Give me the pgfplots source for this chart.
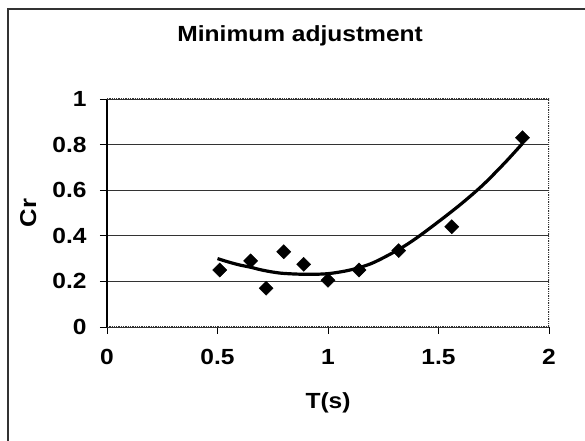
\documentclass[border=0pt]{standalone}
\usepackage{pgfplots}
\pgfplotsset{compat=1.18}
\usepackage{fontspec}
\setmainfont{Liberation Sans}
\newfontfamily\wide{Liberation Sans}[FakeStretch=1.12]

% measured coefficients
\pgfplotstableread{
T     Cr
0.51  0.25
0.65  0.29
0.72  0.17
0.80  0.33
0.89  0.275
1.00  0.205
1.14  0.25
1.32  0.335
1.56  0.44
1.88  0.83
}\measured

% polynomial trend
\pgfplotstableread{
T     Cr
0.50  0.300
0.55  0.285
0.60  0.272
0.65  0.262
0.70  0.250
0.75  0.241
0.80  0.235
0.90  0.231
1.00  0.234
1.10  0.250
1.20  0.280
1.32  0.340
1.40  0.390
1.50  0.462
1.60  0.538
1.70  0.622
1.80  0.720
1.88  0.805
}\trend

\begin{document}
\begin{tikzpicture}
\path[use as bounding box] (0bp,0bp) rectangle (585bp,441bp);
\draw[black!80, line width=1.2bp] (8bp,0bp) -- (8bp,432bp) -- (585bp,432bp);
\begin{axis}[
  at={(107bp,114bp)}, anchor=south west,
  scale only axis, width=442bp, height=228bp,
  xmin=0, xmax=2, ymin=0, ymax=1,
  xtick={0,0.5,1,1.5,2},
  ytick={0,0.2,0.4,0.6,0.8,1},
  axis lines=left,
  axis line style={-},
  y axis line style={black, line width=1.4bp},
  x axis line style={black!80, densely dotted, line width=1.3bp},
  ymajorgrids,
  grid style={black!80, line width=0.9bp},
  tick align=outside,
  major tick length=7bp,
  tick style={black, line width=0.9bp},
  /pgf/number format/assume math mode=true,
  /pgf/number format/fixed,
  tick label style={font=\wide\bfseries\fontsize{22}{26}\selectfont},
  xticklabel style={yshift=-12bp},
  yticklabel style={xshift=-10bp},
  title={\wide\bfseries\fontsize{22}{26}\selectfont Minimum adjustment},
  title style={at={(axis description cs:0.437,1.224)}, anchor=base},
  xlabel={\wide\bfseries\fontsize{22}{26}\selectfont T(s)},
  xlabel style={at={(axis description cs:0.5,-0.333)}, anchor=center},
  ylabel={\wide\bfseries\fontsize{23}{26}\selectfont Cr},
  ylabel style={at={(axis description cs:-0.178,0.5)}, anchor=center, rotate=0},
]
\draw[black!80, densely dotted, line width=1.3bp]
  (rel axis cs:0,1) -- (rel axis cs:1,1) -- (rel axis cs:1,0);
\addplot[black, line width=3.2bp, smooth, tension=0.5, no marks] table[x=T, y=Cr] {\trend};
\addplot[only marks, mark=square*, mark size=5bp, mark options={rotate=45, fill=black, draw=black}] table[x=T, y=Cr] {\measured};
\end{axis}
\end{tikzpicture}
\end{document}
